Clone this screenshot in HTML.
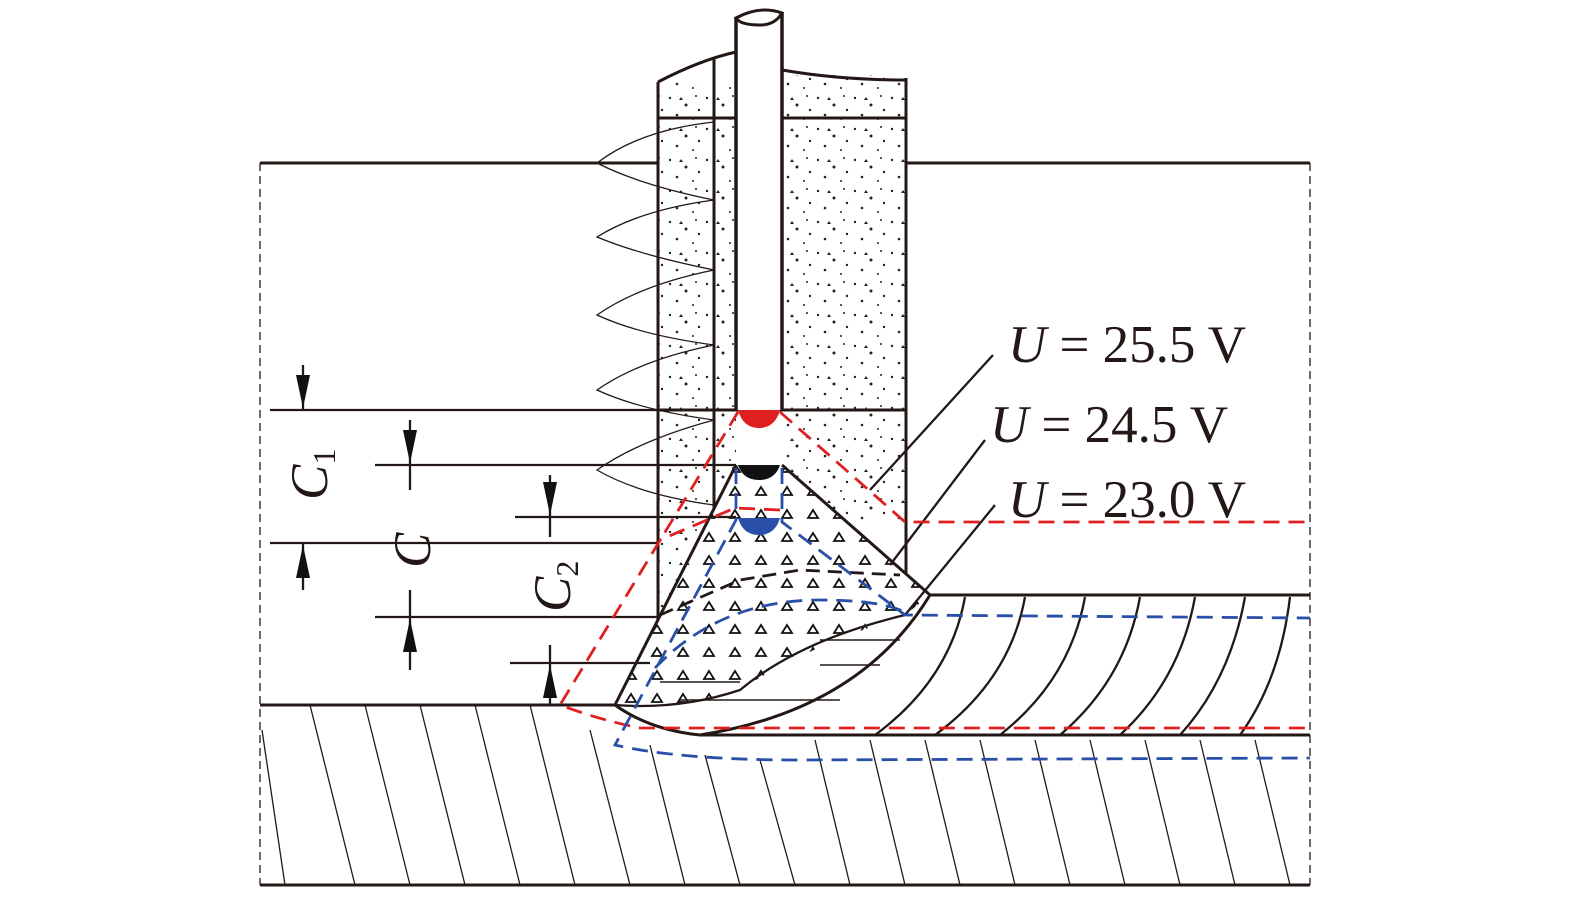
<!DOCTYPE html>
<html><head><style>body{margin:0;background:#fff}svg{display:block}</style></head><body>
<svg width="1575" height="898" viewBox="0 0 1575 898" xmlns="http://www.w3.org/2000/svg">
<defs>
<pattern id="dots" width="37" height="31" patternUnits="userSpaceOnUse">
<circle cx="4" cy="5" r="1.2" fill="#222"/><circle cx="20" cy="12" r="1.5" fill="#222"/><circle cx="30" cy="3" r="1" fill="#222"/><circle cx="11" cy="22" r="1.3" fill="#222"/><circle cx="27" cy="26" r="1" fill="#222"/><circle cx="33" cy="17" r="1.2" fill="#222"/><path d="M15 4l2 3h-4z" fill="#222"/>
</pattern>
<pattern id="tri" width="26" height="23" patternUnits="userSpaceOnUse">
<path d="M7 4l5 8h-10z" fill="none" stroke="#111" stroke-width="1.8"/>
</pattern>
</defs>
<g stroke="#231815" fill="none">
<line x1="260" y1="163" x2="658" y2="163" stroke-width="3"/>
<line x1="906" y1="163" x2="1310" y2="163" stroke-width="3"/>
<line x1="260" y1="163" x2="260" y2="885" stroke-width="1.3" stroke-dasharray="8 5"/>
<line x1="1310" y1="163" x2="1310" y2="885" stroke-width="1.3" stroke-dasharray="8 5"/>
<line x1="260" y1="705" x2="620" y2="705" stroke-width="3"/>
<line x1="260" y1="885" x2="1310" y2="885" stroke-width="3"/>
<g stroke-width="1.3">
<line x1="262" y1="730" x2="285" y2="885"/><line x1="310" y1="705" x2="355" y2="885"/><line x1="365" y1="705" x2="410" y2="885"/><line x1="420" y1="705" x2="465" y2="885"/><line x1="475" y1="705" x2="520" y2="885"/><line x1="530" y1="705" x2="575" y2="885"/><line x1="590" y1="730" x2="630" y2="885"/><line x1="650" y1="745" x2="685" y2="885"/><line x1="705" y1="755" x2="740" y2="885"/><line x1="760" y1="760" x2="795" y2="885"/><line x1="815" y1="740" x2="850" y2="885"/><line x1="870" y1="740" x2="905" y2="885"/><line x1="925" y1="740" x2="960" y2="885"/><line x1="980" y1="740" x2="1015" y2="885"/><line x1="1035" y1="740" x2="1070" y2="885"/><line x1="1090" y1="740" x2="1125" y2="885"/><line x1="1145" y1="740" x2="1180" y2="885"/><line x1="1200" y1="740" x2="1235" y2="885"/><line x1="1255" y1="740" x2="1290" y2="885"/>
</g>
<line x1="930" y1="595" x2="1310" y2="595" stroke-width="3"/>
<line x1="700" y1="735" x2="1310" y2="735" stroke-width="3"/>
<g stroke-width="2.3">
<path d="M965 597Q950 680 875 735"/><path d="M1025 597Q1010 680 935 735"/><path d="M1085 597Q1070 680 1000 735"/><path d="M1140 597Q1125 680 1060 735"/><path d="M1195 597Q1180 680 1120 735"/><path d="M1245 597Q1230 680 1180 735"/><path d="M1290 597Q1280 680 1240 735"/>
</g>
<rect x="658" y="80" width="78" height="540" fill="url(#dots)" stroke="none"/>
<rect x="782" y="75" width="124" height="445" fill="url(#dots)" stroke="none"/>
<path d="M658 82Q700 60 736 52" stroke-width="3"/>
<path d="M782 70Q840 80 906 80" stroke-width="3"/>
<line x1="658" y1="82" x2="658" y2="620" stroke-width="3"/>
<line x1="714" y1="57" x2="714" y2="520" stroke-width="3"/>
<line x1="906" y1="78" x2="906" y2="595" stroke-width="3"/>
<line x1="658" y1="118" x2="906" y2="118" stroke-width="3"/>
<line x1="658" y1="410" x2="906" y2="410" stroke-width="3"/>
<rect x="736" y="18" width="46" height="392" fill="#fff" stroke="none"/>
<line x1="736" y1="18" x2="736" y2="410" stroke-width="3.5"/>
<line x1="782" y1="13" x2="782" y2="410" stroke-width="3.5"/>
<path d="M736 18Q760 5 782 13Q775 25 760 25Q740 25 736 18z" stroke-width="3"/>
<path d="M714 122 Q640 130 597 163 Q640 185 714 200 Q640 210 597 237 Q640 255 714 270 Q640 285 597 315 Q640 335 714 345 Q640 360 597 390 Q640 410 714 420 Q640 440 597 470 Q640 495 714 505" stroke-width="1.3"/>
<path d="M736 465L782 465L930 595Q860 700 700 735Q650 730 615 705Z" fill="#fff" stroke="none"/>
<path d="M736 465L782 465L930 595L905 615Q800 650 740 690Q680 710 615 705Z" fill="url(#tri)" stroke="none"/>
<path d="M736 465L615 705" stroke-width="3"/>
<path d="M782 465L930 595" stroke-width="3"/>
<path d="M930 595Q860 710 700 735Q650 730 615 705" stroke-width="3"/>
<path d="M905 615Q800 640 740 690Q680 710 615 705" stroke-width="2.3"/>
<g stroke-width="1.6"><line x1="820" y1="640" x2="900" y2="640"/><line x1="820" y1="665" x2="880" y2="665"/><line x1="680" y1="700" x2="840" y2="700"/><line x1="660" y1="682" x2="740" y2="682"/></g>
<path d="M660 615L740 580L800 570L900 575" stroke-width="2.8" stroke-dasharray="14 8"/>
<g stroke-width="2.3">
<line x1="270" y1="410" x2="736" y2="410"/><line x1="375" y1="465" x2="736" y2="465"/><line x1="515" y1="517" x2="736" y2="517"/><line x1="270" y1="543" x2="658" y2="543"/><line x1="375" y1="617" x2="658" y2="617"/><line x1="510" y1="663" x2="650" y2="663"/>
<line x1="303" y1="365" x2="303" y2="410"/><line x1="303" y1="543" x2="303" y2="590"/>
<line x1="410" y1="420" x2="410" y2="490"/><line x1="410" y1="590" x2="410" y2="670"/>
<line x1="550" y1="475" x2="550" y2="537"/><line x1="550" y1="645" x2="550" y2="705"/>
<line x1="993" y1="355" x2="870" y2="490"/><line x1="985" y1="440" x2="890" y2="565"/><line x1="995" y1="505" x2="905" y2="615"/>
</g>
</g>
<g fill="#111">
<path d="M296 375h14l-7 33z"/><path d="M296 578h14l-7 -33z"/>
<path d="M403 430h14l-7 33z"/><path d="M403 652h14l-7 -33z"/>
<path d="M543 482h14l-7 33z"/><path d="M543 698h14l-7 -33z"/>
</g>
<path d="M738 410h42Q775 428 759 428Q743 428 738 410z" fill="#e02020"/>
<path d="M738 465h42Q775 480 759 480Q743 480 738 465z" fill="#111"/>
<path d="M738 518h42Q775 535 759 535Q743 535 738 518z" fill="#2a4fa8"/>
<g stroke="#e02020" stroke-width="2.8" fill="none" stroke-dasharray="16 9">
<path d="M738 412L560 705Q600 720 640 728L800 728L1310 728"/>
<path d="M780 412L905 522L1310 522"/>
<path d="M780 510L735 508L660 540"/>
</g>
<g stroke="#2a4fa8" stroke-width="2.8" fill="none" stroke-dasharray="16 9">
<path d="M736 468L736 520L615 745Q680 760 800 760L1310 758"/>
<path d="M782 468L782 522L905 615L1310 618"/>
<path d="M655 668Q720 600 820 600Q880 600 905 612"/>
</g>
<g font-family="'Liberation Serif',serif" font-size="53" fill="#231815">
<text x="1008" y="362"><tspan font-style="italic">U</tspan> = 25.5 V</text>
<text x="990" y="442"><tspan font-style="italic">U</tspan> = 24.5 V</text>
<text x="1008" y="517"><tspan font-style="italic">U</tspan> = 23.0 V</text>
<text transform="translate(327,500) rotate(-90)" font-style="italic">C<tspan font-size="32" font-style="normal" dy="8">1</tspan></text>
<text transform="translate(430,568) rotate(-90)" font-style="italic">C</text>
<text transform="translate(570,612) rotate(-90)" font-style="italic">C<tspan font-size="32" font-style="normal" dy="8">2</tspan></text>
</g>
</svg>
</body></html>
